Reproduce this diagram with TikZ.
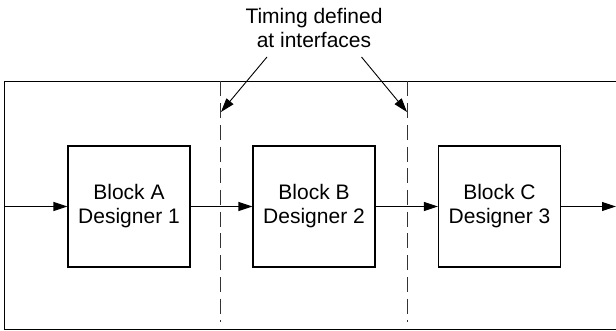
\documentclass[tikz,border=0pt]{standalone}
\usepackage{fontspec}
\setmainfont{Liberation Sans}
\usetikzlibrary{arrows.meta}
\begin{document}
\begin{tikzpicture}[x=1pt,y=-1pt,
  line width=1.1pt,
  every node/.style={font=\fontsize{21}{24}\selectfont},
  blockbox/.style={draw, minimum width=122pt, minimum height=121pt, align=center, inner sep=0pt},
  flow/.style={-{Triangle[length=14pt,width=9pt]}},
  pointer/.style={line width=0.9pt, -{Triangle[length=14pt,width=9pt]}},
  boundary/.style={draw=black!80, line width=1.6pt, dash pattern=on 15pt off 6.7pt}
]
\useasboundingbox (0,0) rectangle (616,331);
% frame (open to the right)
\draw (616,81.5) -- (4.5,81.5) -- (4.5,329.5) -- (616,329.5);
% blocks
\node[blockbox] (A) at (129,206.5) {\raisebox{-2pt}{Block A}\\\raisebox{-2pt}{Designer 1}};
\node[blockbox] (B) at (314,206.5) {\raisebox{-2pt}{Block B}\\\raisebox{-2pt}{Designer 2}};
\node[blockbox] (C) at (499.5,206.5) {\raisebox{-2pt}{Block C}\\\raisebox{-2pt}{Designer 3}};
% interfaces
\coordinate (d1t) at (220.5,81.5);
\coordinate (d1b) at (220.5,322);
\coordinate (d2t) at (407.5,81.5);
\coordinate (d2b) at (407.5,322);
\draw[boundary] (d1t) -- (d1b);
\draw[boundary] (d2t) -- (d2b);
% signal flow
\coordinate (in) at (4.5,206.5);
\coordinate (out) at (616,206.5);
\draw[flow] (in) -- (A.west);
\draw[flow] (A.east) -- (B.west);
\draw[flow] (B.east) -- (C.west);
\draw[flow] (C.east) -- (out);
% label
\node[align=center, inner sep=0pt] (lab) at (314,27.5) {Timing defined\\at interfaces};
\coordinate (p1s) at (267,57);
\coordinate (p1e) at (221,112);
\coordinate (p2s) at (361.5,57);
\coordinate (p2e) at (407,112);
\draw[pointer] (p1s) -- (p1e);
\draw[pointer] (p2s) -- (p2e);
\end{tikzpicture}
\end{document}
